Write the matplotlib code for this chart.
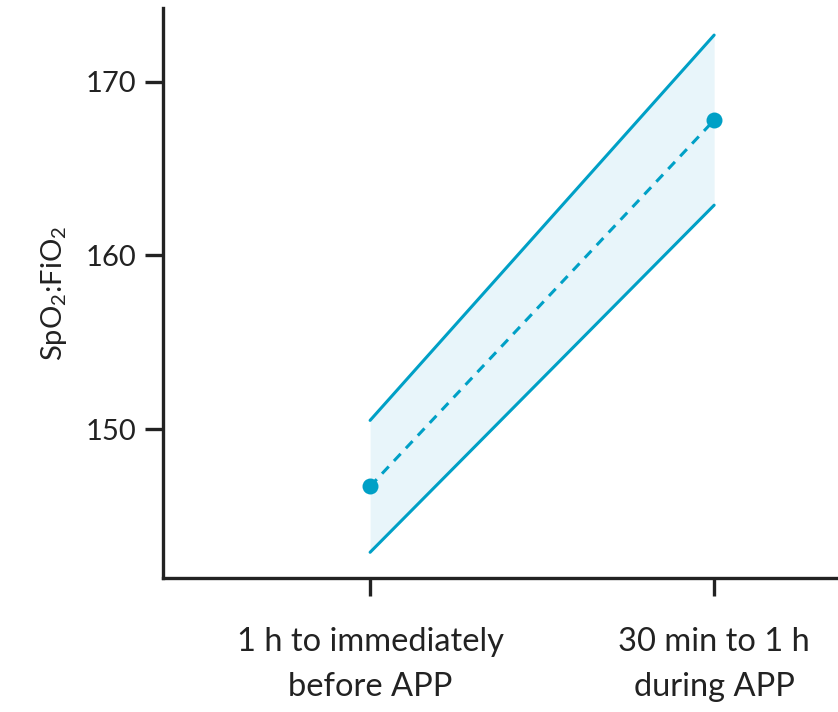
import matplotlib
matplotlib.use("Agg")
import matplotlib.pyplot as plt

plt.rcParams['font.family'] = ['Lato', 'DejaVu Sans']
plt.rcParams['mathtext.fontset'] = 'custom'
plt.rcParams['mathtext.rm'] = 'Lato'
plt.rcParams['mathtext.it'] = 'Lato'
plt.rcParams['mathtext.default'] = 'regular'

categories = ["1 h to immediately\nbefore APP", "30 min to 1 h\nduring APP"]
means = [146.7, 167.8]
upper = [150.5, 172.7]
lower = [142.9, 162.9]
yticks = [150, 160, 170]

col = '#00a0c6'
fill = '#e8f5fa'
dark = '#222222'

fig = plt.figure(figsize=(8.38, 7.12), dpi=100)
ax = fig.add_axes([0.1945, 0.188, 0.8055, 0.801])

x = list(range(len(categories)))
ax.fill_between(x, lower, upper, color=fill, linewidth=0, zorder=1)
ax.plot(x, upper, color=col, lw=2.2, solid_capstyle='round', zorder=2)
ax.plot(x, lower, color=col, lw=2.2, solid_capstyle='round', zorder=2)
ax.plot(x, means, color=col, lw=2.2, ls=(0, (3.2, 2.5)), zorder=3)
ax.plot(x, means, 'o', color=col, ms=11.5, mec='none', zorder=4)

ax.set_xlim(-0.602, 1.36)
ax.set_ylim(141.41, 174.27)
ax.set_xticks(x)
ax.set_xticklabels(categories, fontsize=23.5, color=dark, linespacing=1.62)
ax.set_yticks(yticks)
ax.set_yticklabels([str(t) for t in yticks], fontsize=21, color=dark)
ax.set_ylabel('SpO$_2$:FiO$_2$', fontsize=21, color=dark, labelpad=12)

for s in ['top', 'right']:
    ax.spines[s].set_visible(False)
for s in ['left', 'bottom']:
    ax.spines[s].set_linewidth(2.4)
    ax.spines[s].set_color(dark)
ax.tick_params(axis='both', length=13, width=2.4, color=dark)
ax.tick_params(axis='x', pad=22)
ax.tick_params(axis='y', pad=6)

fig.savefig('out.png', dpi=100)
